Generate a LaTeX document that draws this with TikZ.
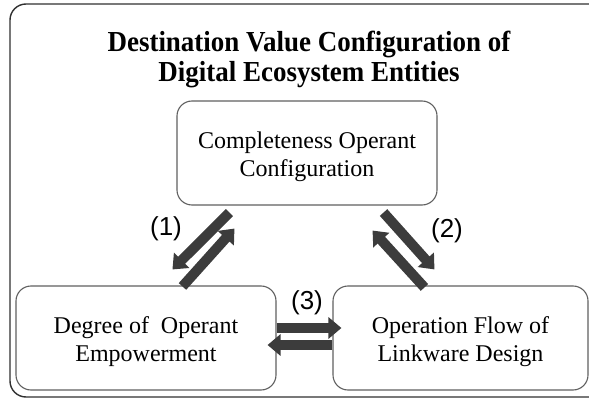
\documentclass[tikz,border=0pt]{standalone}
\usepackage{fontspec}
\setmainfont{Liberation Serif}
\newfontfamily\titlefont[FakeStretch=0.93]{Liberation Serif}
\newfontfamily\labelfont{Liberation Sans}
\usetikzlibrary{arrows.meta,calc}
\definecolor{arrowgray}{HTML}{3C3C3C}
\definecolor{boxgray}{HTML}{606060}
\definecolor{framegray}{HTML}{303030}
\newcommand{\topstrut}{\rule{0pt}{24pt}}
\tikzset{
  entitybox/.style={draw=boxgray, line width=1.1pt, rounded corners=15pt, minimum height=104pt, align=center, inner sep=0pt, font=\fontsize{24}{28.5}\selectfont},
  bigarrow/.style={draw=arrowgray, line width=10pt, -{Triangle[length=13pt,width=21pt]}, arrowgray},
  numlabel/.style={font=\labelfont\fontsize{26}{30}\selectfont, inner sep=0pt},
  titletext/.style={font=\titlefont\bfseries\fontsize{29}{30}\selectfont, inner sep=0pt, anchor=base}
}
\begin{document}
\begin{tikzpicture}[x=1pt,y=-1pt]
\useasboundingbox (0,0) rectangle (589,398);
\clip (0,0) rectangle (589,398);
\draw[framegray, line width=1.4pt, rounded corners=16pt] (10,4) rectangle (610,397);
\node[titletext] (title1) at (309,52) {Destination Value Configuration of};
\node[titletext] (title2) at (309,82) {Digital Ecosystem Entities};
\node[entitybox, minimum width=260pt] (top) at (307,153) {\topstrut Completeness Operant\\Configuration};
\node[entitybox, minimum width=260pt] (left) at (146,338) {\topstrut Degree of~ Operant\\Empowerment};
\node[entitybox, minimum width=255pt] (right) at (460.5,338) {\topstrut Operation Flow of\\Linkware Design};
% (1)
\draw[bigarrow] ($(top.south west)+(53,7)$) -- ($(left.north west)+(157,-16)$);
\draw[bigarrow] ($(left.north west)+(167,1)$) -- ($(top.south west)+(58,23)$);
% (2)
\draw[bigarrow] ($(top.south east)+(-54,7)$) -- ($(right.north west)+(102,-16)$);
\draw[bigarrow] ($(right.north west)+(92,2)$) -- ($(top.south east)+(-65,25)$);
% (3)
\draw[bigarrow] ($(left.east)+(0,-10)$) -- ($(right.west)+(9,-10)$);
\draw[bigarrow] ($(right.west)+(0,7)$) -- ($(left.east)+(-9,7)$);
\node[numlabel] (l1) at (166,229) {(1)};
\node[numlabel] (l2) at (447,231) {(2)};
\node[numlabel] (l3) at (307,303) {(3)};
\end{tikzpicture}
\end{document}
